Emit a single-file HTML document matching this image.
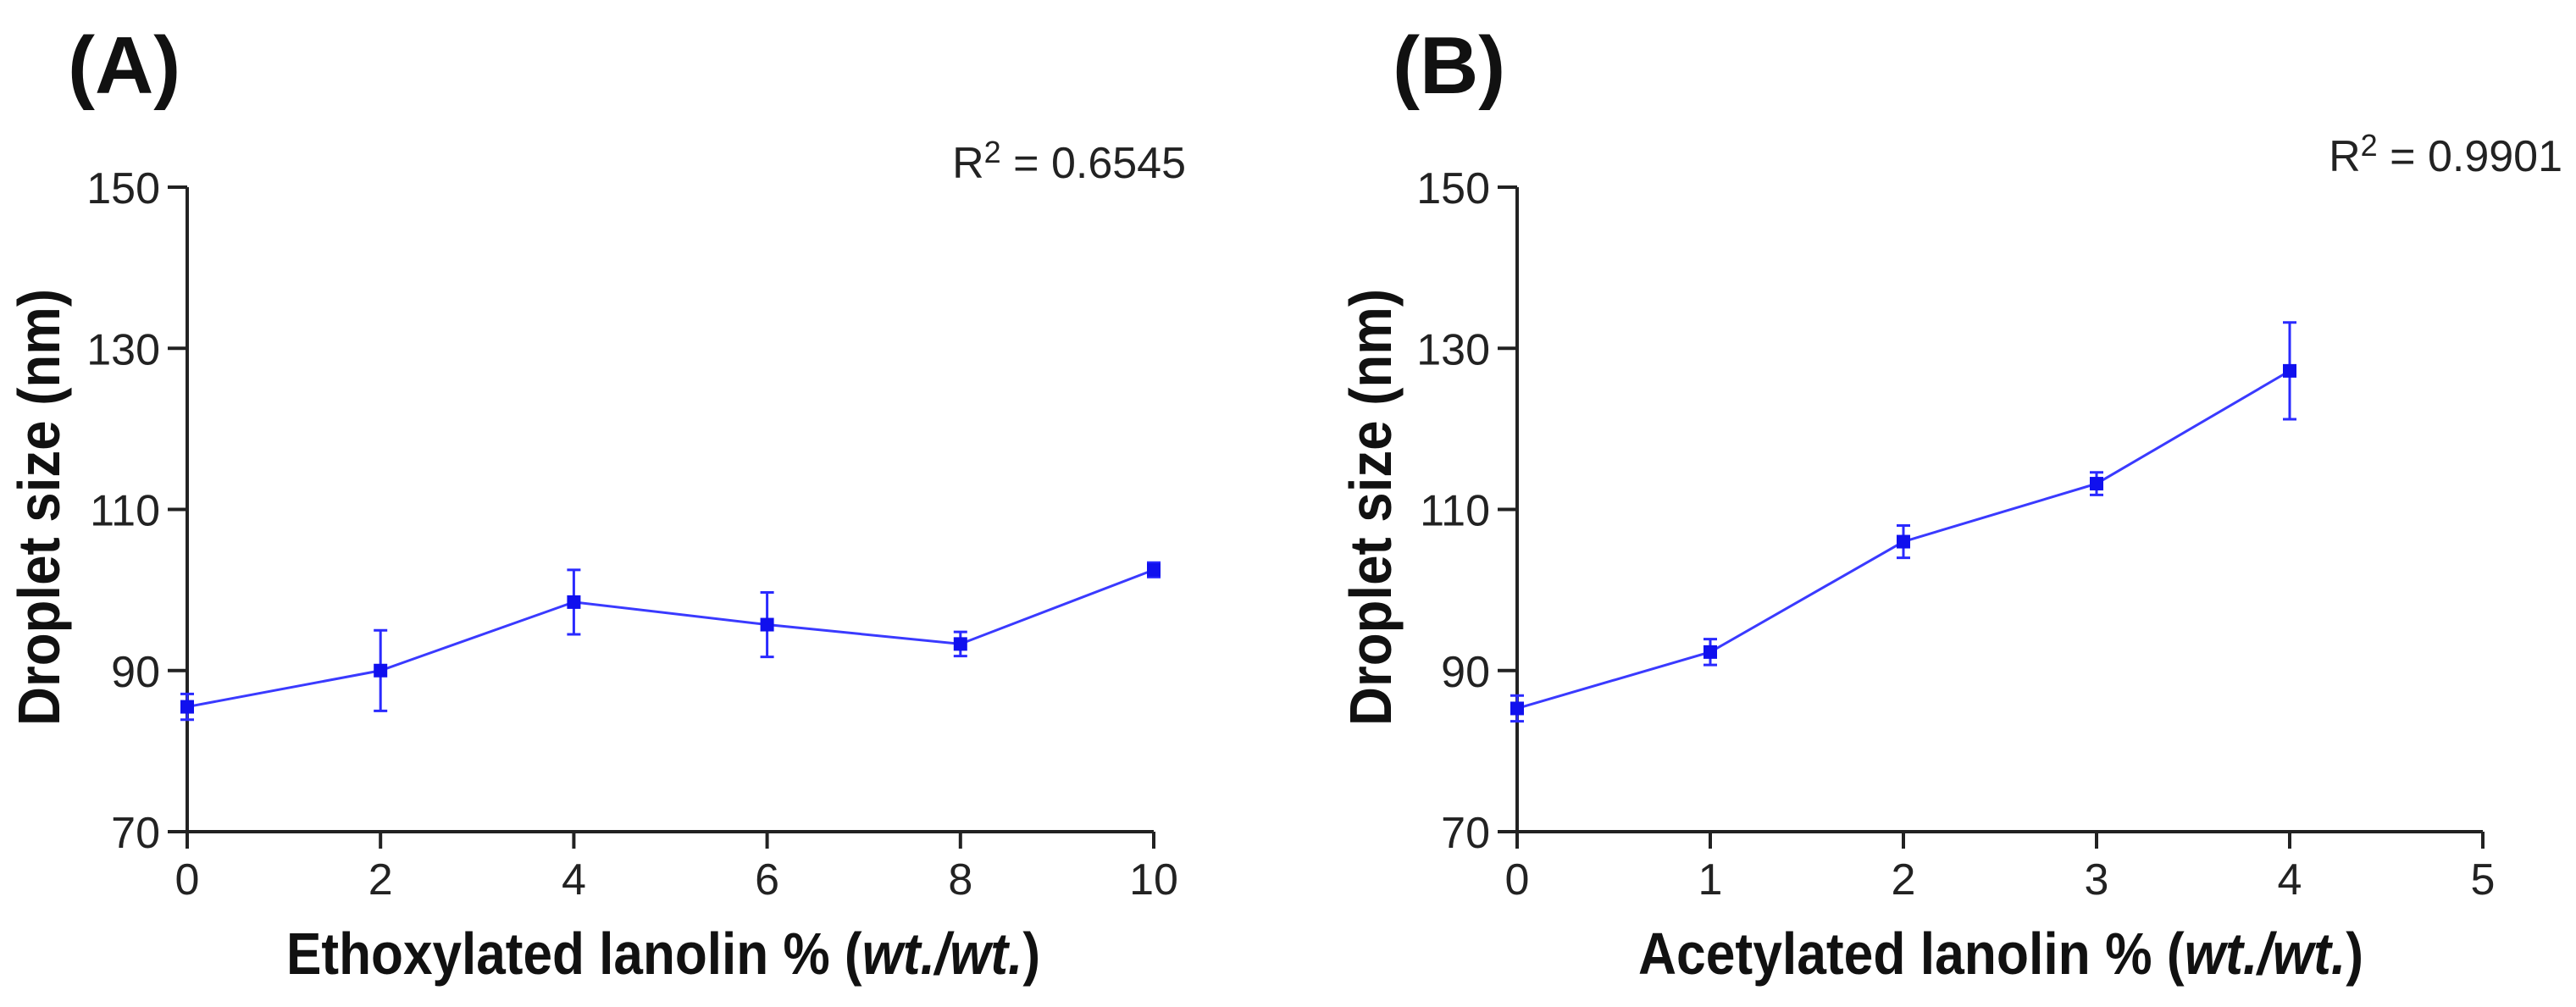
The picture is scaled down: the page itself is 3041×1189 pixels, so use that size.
<!DOCTYPE html>
<html><head><meta charset="utf-8"><style>
html,body{margin:0;padding:0;background:#fff;}
svg{display:block;font-family:"Liberation Sans",Arial,sans-serif;}
</style></head><body>
<svg id="chart" width="3041" height="1189" viewBox="0 0 3041 1189" xmlns="http://www.w3.org/2000/svg"></svg>
<script>
const yTicks = [70, 90, 110, 130, 150];
const xTicksA = [0, 2, 4, 6, 8, 10];
const xValsA = [0, 2, 4, 6, 8, 10];
const meansA = [85.5, 90.0, 98.5, 95.7, 93.3, 102.5];
const errsA = [1.6, 5.0, 4.0, 4.0, 1.5, 0.9];
const xTicksB = [0, 1, 2, 3, 4, 5];
const xValsB = [0, 1, 2, 3, 4];
const meansB = [85.3, 92.3, 106.0, 113.2, 127.2];
const errsB = [1.6, 1.6, 2.0, 1.4, 6.0];

const NS = 'http://www.w3.org/2000/svg';
const svg = document.getElementById('chart');
function mk(tag, attrs, parent, text){
  const e = document.createElementNS(NS, tag);
  for (const k in attrs) e.setAttribute(k, attrs[k]);
  if (text !== undefined) e.textContent = text;
  (parent || svg).appendChild(e);
  return e;
}
function panel(cfg){
  const g = mk('g', {});
  
  
  const x0 = cfg.x0, x1 = cfg.x1, yTop = 221, yBot = 982;
  const xs = v => x0 + (v - cfg.xmin) / (cfg.xmax - cfg.xmin) * (x1 - x0);
  const ys = v => yBot - (v - 70) / (150 - 70) * (yBot - yTop);
  const ax = mk('path', {d:`M${x0},${yTop} V${yBot} H${x1}`, fill:'none', stroke:'#222', 'stroke-width':4}, g);
  
  
  yTicks.forEach(t => {
    const y = ys(t);
    const tk = mk('line', {x1:x0-23, x2:x0, y1:y, y2:y, stroke:'#222', 'stroke-width':4}, g);
    
    
    const lb = mk('text', {x:x0-32, y:y+19, 'text-anchor':'end', 'font-size':52, fill:'#222'}, g, String(t));
    
    
  });
  cfg.xTicks.forEach(t => {
    const x = xs(t);
    const tk = mk('line', {x1:x, x2:x, y1:yBot, y2:yBot+20, stroke:'#222', 'stroke-width':4}, g);
    
    
    const lb = mk('text', {x:x, y:1056, 'text-anchor':'middle', 'font-size':52, fill:'#222'}, g, String(t));
    
    
  });
  const pts = cfg.xv.map((v,i) => `${xs(v)},${ys(cfg.m[i])}`).join(' ');
  const ln = mk('polyline', {points:pts, fill:'none', stroke:'#3a3aff', 'stroke-width':3}, g);
  
  
  cfg.xv.forEach((v,i) => {
    const x = xs(v), y = ys(cfg.m[i]), yh = ys(cfg.m[i]+cfg.e[i]), yl = ys(cfg.m[i]-cfg.e[i]);
    const eb = mk('path', {d:`M${x},${yh} V${yl} M${x-8},${yh} H${x+8} M${x-8},${yl} H${x+8}`, stroke:'#2a2aff', 'stroke-width':3, fill:'none'}, g);
    
    
    const pt = mk('rect', {x:x-8, y:y-8, width:16, height:16, fill:'#1010ee'}, g);
    
    
  });
  const yt = mk('text', {x:0, y:0, transform:`translate(${cfg.ytx},599) rotate(-90)`, 'text-anchor':'middle', 'font-size':70, 'font-weight':'bold', fill:'#111', textLength:516, lengthAdjust:'spacingAndGlyphs'}, g, 'Droplet size (nm)');
  
  
  const xt = mk('text', {x:cfg.xtx, y:1150, 'font-size':70, 'font-weight':'bold', fill:'#111', textLength:cfg.xtw, lengthAdjust:'spacingAndGlyphs'}, g);
  
  
  mk('tspan', {}, xt, cfg.xtitle + ' % (');
  mk('tspan', {'font-style':'italic'}, xt, 'wt./wt.');
  mk('tspan', {}, xt, ')');
  const r = mk('text', {x:cfg.rx, y:cfg.ry, 'text-anchor':'end', 'font-size':52, fill:'#222'}, g);
  
  
  mk('tspan', {}, r, 'R');
  mk('tspan', {dy:-18, 'font-size':36}, r, '2');
  mk('tspan', {dy:18}, r, ' = ' + cfg.r2);
  const pl = mk('text', {x:cfg.plx, y:110, 'font-size':96, 'font-weight':'bold', fill:'#111'}, g, cfg.plabel);
  
  
}
panel({name:'panel-a-chart', x0:221, x1:1362, xmin:0, xmax:10, xTicks:xTicksA, xv:xValsA, m:meansA, e:errsA,
  ytx:70, xtx:338, xtw:890, xtitle:'Ethoxylated lanolin', rx:1400, ry:210, r2:'0.6545', plx:80, plabel:'(A)'});
panel({name:'panel-b-chart', x0:1791, x1:2931, xmin:0, xmax:5, xTicks:xTicksB, xv:xValsB, m:meansB, e:errsB,
  ytx:1642, xtx:1934, xtw:856, xtitle:'Acetylated lanolin', rx:3025, ry:202, r2:'0.9901', plx:1644, plabel:'(B)'});
</script>
</body></html>
